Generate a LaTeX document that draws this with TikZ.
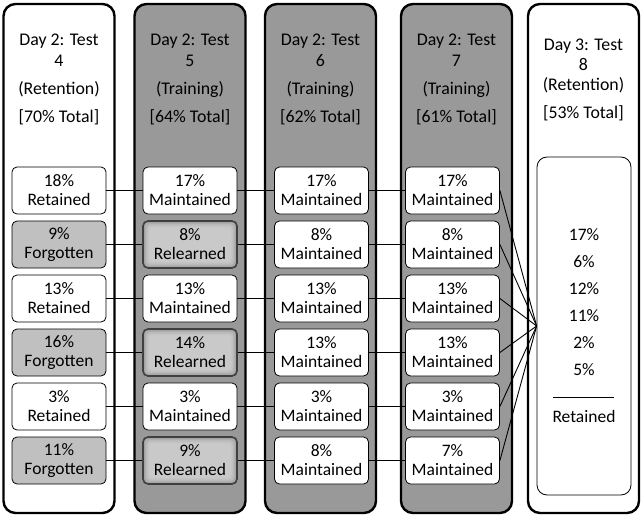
\documentclass[tikz,border=0pt]{standalone}
\usepackage{fontspec}
\setmainfont{Carlito}
\usetikzlibrary{positioning}
\definecolor{traingray}{RGB}{153,153,153}
\definecolor{forgotgray}{RGB}{192,192,192}
\tikzset{
  testcol/.style={
    draw=black,
    line width=2.4pt,
    rounded corners=12pt,
    minimum width=111pt,
    minimum height=509pt,
    inner sep=0pt
  },
  head/.style={
    align=center,
    font=\fontsize{17.8}{21}\selectfont
  },
  cell/.style={
    draw=black,
    line width=0.8pt,
    rounded corners=5pt,
    fill=white,
    align=center,
    minimum width=94pt,
    minimum height=47pt,
    inner sep=0pt,
    font=\fontsize{17.5}{19}\selectfont
  },
  forgot/.style={
    cell,
    fill=forgotgray
  },
  relearn/.style={
    cell,
    fill=black!38,
    draw=black!75,
    line width=1.6pt,
    path picture={
      \foreach \k/\g in {1.5/32,3/27,4.5/23,6/21}
        \fill[black!\g,rounded corners=4pt]
          ([shift={(\k pt,-\k pt)}]path picture bounding box.north west) rectangle
          ([shift={(-\k pt,\k pt)}]path picture bounding box.south east);
    }
  },
  sumbox/.style={
    draw=black,
    line width=0.8pt,
    rounded corners=10pt,
    minimum width=94pt,
    minimum height=338pt,
    inner sep=0pt
  },
  sumtxt/.style={
    font=\fontsize{17.5}{19}\selectfont
  },
  link/.style={
    line width=0.9pt,
    black
  }
}

\begin{document}
\begin{tikzpicture}[x=1pt,y=-1pt]
\useasboundingbox (0,0) rectangle (643,519);
% test columns
\node[testcol] (test4) at (59,258.5) {};
\node[testcol,fill=traingray] (test5) at (190,258.5) {};
\node[testcol,fill=traingray] (test6) at (320.5,258.5) {};
\node[testcol,fill=traingray] (test7) at (456.5,258.5) {};
\node[testcol] (test8) at (583.5,258.5) {};
% headers
\node[head] (h4) at (59,79) {Day 2: Test\\4\\[7pt](Retention)\\[7pt]{[}70\% Total{]}};
\node[head] (h5) at (190,79) {Day 2: Test\\5\\[7pt](Training)\\[7pt]{[}64\% Total{]}};
\node[head] (h6) at (320.5,79) {Day 2: Test\\6\\[7pt](Training)\\[7pt]{[}62\% Total{]}};
\node[head] (h7) at (456.5,79) {Day 2: Test\\7\\[7pt](Training)\\[7pt]{[}61\% Total{]}};
\node[head,font=\fontsize{17.8}{20}\selectfont] (h8) at (583.5,79.5) {Day 3: Test\\8\\(Retention)\\[8pt]{[}53\% Total{]}};
% cells
\foreach \pct/\kind/\word [count=\i] in {18/cell/Retained,9/forgot/Forgotten,13/cell/Retained,16/forgot/Forgotten,3/cell/Retained,11/forgot/Forgotten}
  \node[\kind] (a\i) at (59,{136.5+54*\i}) {\pct\%\\\word};
\foreach \pct/\kind/\word [count=\i] in {17/cell/Maintained,8/relearn/Relearned,13/cell/Maintained,14/relearn/Relearned,3/cell/Maintained,9/relearn/Relearned}
  \node[\kind] (b\i) at (190,{136.5+54*\i}) {\pct\%\\\word};
\foreach \pct [count=\i] in {17,8,13,13,3,8}
  \node[cell] (c\i) at (321.5,{136.5+54*\i}) {\pct\%\\Maintained};
\foreach \pct [count=\i] in {17,8,13,13,3,7}
  \node[cell] (d\i) at (452.5,{136.5+54*\i}) {\pct\%\\Maintained};
% summary box
\node[sumbox] (sum) at (584,326) {};
\foreach \v [count=\j] in {17,6,12,11,2,5}
  \node[sumtxt] (s\j) at (584,{208+27*\j}) {\v\%};
\draw[line width=0.8pt] (553,397) -- (614,397);
\node[sumtxt] (ret) at (584,416) {Retained};
% connectors
\foreach \i in {1,...,6} {
  \draw[link] (a\i) -- (b\i);
  \draw[link] (b\i) -- (c\i);
  \draw[link] (c\i) -- (d\i);
  \draw[link] (d\i.east) -- (sum.west);
}
\end{tikzpicture}
\end{document}
